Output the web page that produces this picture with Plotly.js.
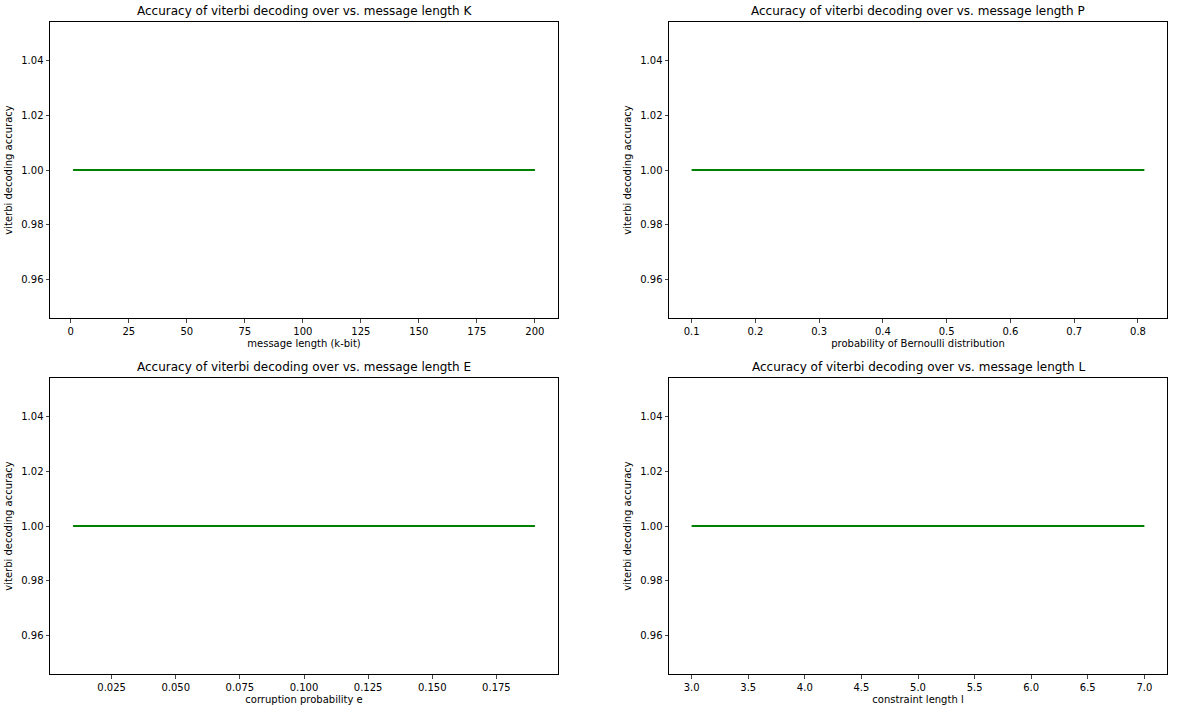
<!DOCTYPE html>
<html>
<head>
<meta charset="utf-8">
<script src="https://cdn.plot.ly/plotly-3.0.1.min.js"></script>
<style>body{margin:0;background:#fff}#chart{width:1177px;height:713px}</style>
</head>
<body>
<div id="chart"></div>
<script>
const kValues = [1, 25, 50, 75, 100, 125, 150, 175, 200]
const kAccuracy = [1, 1, 1, 1, 1, 1, 1, 1, 1]
const pValues = [0.1, 0.2, 0.3, 0.4, 0.5, 0.6, 0.7, 0.8, 0.81]
const pAccuracy = [1, 1, 1, 1, 1, 1, 1, 1, 1]
const eValues = [0.01, 0.05, 0.09, 0.13, 0.17, 0.19]
const eAccuracy = [1, 1, 1, 1, 1, 1]
const lValues = [3, 4, 5, 6, 7]
const lAccuracy = [1, 1, 1, 1, 1]

const font = {family: 'DejaVu Sans', size: 10, color: '#000'}
const titles = ['K', 'P', 'E', 'L']
const xTitles = ['message length (k-bit)', 'probability of Bernoulli distribution', 'corruption probability e', 'constraint length l']
const series = [[kValues, kAccuracy], [pValues, pAccuracy], [eValues, eAccuracy], [lValues, lAccuracy]]
const xRanges = [[-8.95, 209.95], [0.0645, 0.8455], [0.001, 0.199], [2.8, 7.2]]
const xTicks = [
    [0, 25, 50, 75, 100, 125, 150, 175, 200],
    [0.1, 0.2, 0.3, 0.4, 0.5, 0.6, 0.7, 0.8],
    [0.025, 0.05, 0.075, 0.1, 0.125, 0.15, 0.175],
    [3, 3.5, 4, 4.5, 5, 5.5, 6, 6.5, 7]
]
const xTickText = [
    null, null,
    ['0.025', '0.050', '0.075', '0.100', '0.125', '0.150', '0.175'],
    ['3.0', '3.5', '4.0', '4.5', '5.0', '5.5', '6.0', '6.5', '7.0']
]
const domainsX = [[50/1177, 558/1177], [669/1177, 1167/1177]]
const domainsY = [[1 - 318/713, 1 - 22/713], [1 - 674/713, 1 - 378/713]]

const data = []
const layout = {
    width: 1177, height: 713, showlegend: false,
    paper_bgcolor: '#fff', plot_bgcolor: '#fff',
    margin: {l: 0, r: 0, t: 0, b: 0},
    font: font, annotations: []
}
series.forEach((s, i) => {
    const n = i + 1
    data.push({x: s[0], y: s[1], mode: 'lines', type: 'scatter',
        line: {color: 'green', width: 2}, xaxis: 'x' + n, yaxis: 'y' + n})
    const ax = {
        domain: domainsX[i % 2], anchor: 'y' + n, range: xRanges[i],
        tickvals: xTicks[i], ticktext: xTickText[i] || undefined,
        ticks: 'outside', ticklen: 3.5, showgrid: false, zeroline: false,
        showline: true, mirror: true, linecolor: '#000', linewidth: 1,
        tickfont: font, title: {text: xTitles[i], font: font, standoff: 4}
    }
    const ay = {
        domain: domainsY[Math.floor(i / 2)], anchor: 'x' + n, range: [0.9457, 1.0543],
        tickvals: [0.96, 0.98, 1.0, 1.02, 1.04], ticktext: ['0.96', '0.98', '1.00', '1.02', '1.04'],
        ticks: 'outside', ticklen: 3.5, showgrid: false, zeroline: false,
        showline: true, mirror: true, linecolor: '#000', linewidth: 1,
        tickfont: font, title: {text: 'viterbi decoding accuracy', font: font, standoff: 6}
    }
    layout['xaxis' + n] = ax
    layout['yaxis' + n] = ay
    const d = domainsX[i % 2]
    layout.annotations.push({
        text: 'Accuracy of viterbi decoding over vs. message length ' + titles[i],
        xref: 'paper', yref: 'paper', x: (d[0] + d[1]) / 2, y: domainsY[Math.floor(i / 2)][1],
        yanchor: 'bottom', xanchor: 'center', showarrow: false, yshift: 2,
        font: {family: 'DejaVu Sans', size: 12, color: '#000'}
    })
})
Plotly.newPlot('chart', data, layout, {staticPlot: true})
</script>
</body>
</html>
